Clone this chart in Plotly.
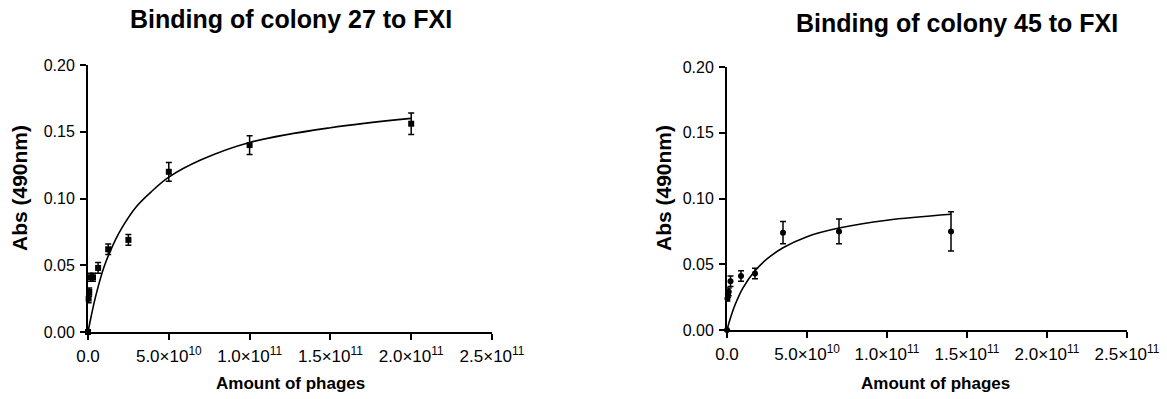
import plotly.graph_objects as go

# ---- data: colony 27 ----
x27 = [0, 3.9e8, 7.8e8, 1.56e9, 3.1e9, 6.25e9, 1.25e10, 2.5e10, 5e10, 1e11, 2e11]
y27 = [0.0, 0.025, 0.030, 0.041, 0.041, 0.048, 0.062, 0.069, 0.120, 0.140, 0.156]
e27 = [0.0, 0.003, 0.003, 0.003, 0.003, 0.004, 0.004, 0.004, 0.007, 0.007, 0.008]
fit27_x = [0, 2e9, 5e9, 1e10, 1.5e10, 2e10, 3e10, 4e10, 5e10, 7e10, 1e11, 1.5e11, 2e11]
fit27_y = [0, 0.012, 0.028, 0.049, 0.064, 0.076, 0.094, 0.106, 0.116, 0.129, 0.142, 0.153, 0.160]

# ---- data: colony 45 ----
x45 = [0, 2.7e8, 5.5e8, 1.1e9, 2.2e9, 8.75e9, 1.75e10, 3.5e10, 7e10, 1.4e11]
y45 = [0.0, 0.024, 0.027, 0.029, 0.037, 0.041, 0.043, 0.074, 0.075, 0.075]
e45 = [0.0, 0.002, 0.002, 0.003, 0.004, 0.004, 0.004, 0.0085, 0.0095, 0.015]
fit45_x = [0, 2e9, 5e9, 1e10, 1.75e10, 2.5e10, 3.5e10, 5e10, 7e10, 1e11, 1.4e11]
fit45_y = [0, 0.0085, 0.019, 0.032, 0.045, 0.054, 0.0625, 0.071, 0.0775, 0.0835, 0.088]

xtick_vals = [0, 5e10, 1e11, 1.5e11, 2e11, 2.5e11]
xtick_text = ["0.0", "5.0×10<sup>10</sup>", "1.0×10<sup>11</sup>", "1.5×10<sup>11</sup>",
              "2.0×10<sup>11</sup>", "2.5×10<sup>11</sup>"]
ytick_vals = [0, 0.05, 0.10, 0.15, 0.20]
ytick_text = ["0.00", "0.05", "0.10", "0.15", "0.20"]

W, H = 1167, 399
FONT = "Liberation Sans, Arial, sans-serif"

fig = go.Figure()

def add_panel(xd, yd, ed, fx, fy, symbol, xa, ya):
    fig.add_trace(go.Scatter(x=fx, y=fy, mode="lines", line=dict(color="black", width=1.6, shape="spline"),
                             xaxis=xa, yaxis=ya, hoverinfo="skip", showlegend=False, cliponaxis=False))
    fig.add_trace(go.Scatter(x=xd, y=yd, mode="markers",
                             marker=dict(color="black", size=6, symbol=symbol),
                             error_y=dict(type="data", array=ed, color="black", thickness=1.5, width=3),
                             xaxis=xa, yaxis=ya, showlegend=False, cliponaxis=False))

add_panel(x27, y27, e27, fit27_x, fit27_y, "square", "x", "y")
add_panel(x45, y45, e45, fit45_x, fit45_y, "circle", "x2", "y2")

axis_common = dict(showline=True, linecolor="black", linewidth=2, ticks="outside", ticklen=6,
                   tickwidth=2, tickcolor="black", showgrid=False, zeroline=False, automargin=False)
xfont = dict(family=FONT, size=17, color="black")
yfont = dict(family=FONT, size=16, color="black")

fig.update_layout(
    width=W, height=H, margin=dict(l=0, r=0, t=0, b=0),
    paper_bgcolor="white", plot_bgcolor="white",
    xaxis=dict(domain=[88 / W, 492 / W], range=[0, 2.5e11], tickvals=xtick_vals, ticktext=xtick_text,
               anchor="y", tickfont=xfont, ticklabelstandoff=2, **axis_common),
    yaxis=dict(domain=[(H - 332) / H, (H - 65) / H], range=[0, 0.2], tickvals=ytick_vals, ticktext=ytick_text,
               anchor="x", tickfont=yfont, ticklabelstandoff=2, **axis_common),
    xaxis2=dict(domain=[727 / W, 1127 / W], range=[0, 2.5e11], tickvals=xtick_vals, ticktext=xtick_text,
                anchor="y2", tickfont=xfont, ticklabelstandoff=2, **axis_common),
    yaxis2=dict(domain=[(H - 330) / H, (H - 67) / H], range=[0, 0.2], tickvals=ytick_vals, ticktext=ytick_text,
                anchor="x2", tickfont=yfont, ticklabelstandoff=2, **axis_common),
)

def ann(text, x, y, size, angle=0):
    fig.add_annotation(text=f"<b>{text}</b>", xref="paper", yref="paper", x=x / W, y=1 - y / H,
                       xanchor="center", yanchor="middle", showarrow=False, textangle=angle,
                       font=dict(family=FONT, size=size, color="black"))

ann("Binding of colony 27 to FXI", 291, 19, 25)
ann("Binding of colony 45 to FXI", 957, 23, 25)
ann("Amount of phages", 290, 383, 17)
ann("Amount of phages", 935, 383, 17)
ann("Abs (490nm)", 19, 188, 21, -90)
ann("Abs (490nm)", 663, 188, 21, -90)

fig.write_html("out.html")
